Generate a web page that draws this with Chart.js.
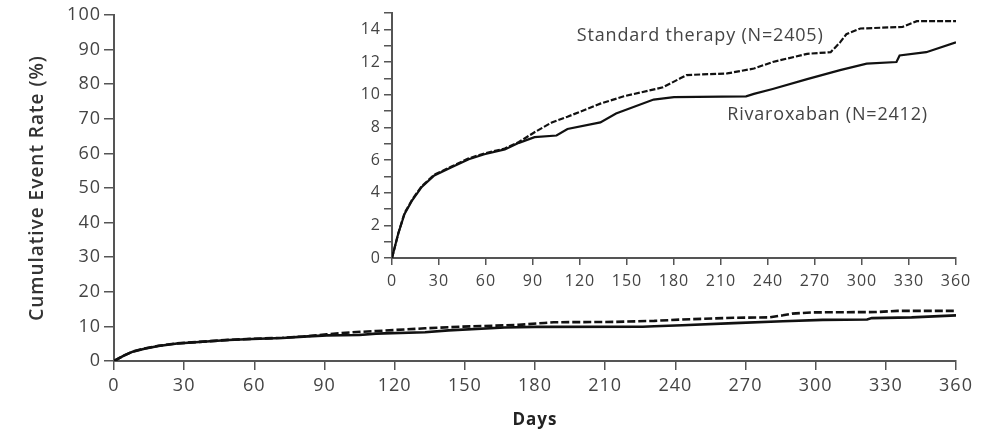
<!DOCTYPE html>
<html>
<head>
<meta charset="utf-8">
<script src="https://cdn.jsdelivr.net/npm/chart.js@4.4.1/dist/chart.umd.min.js"></script>
<style>
  html,body{margin:0;padding:0;background:#fff;}
  #wrap{position:relative;width:997px;height:435px;}
  #main{position:absolute;left:0;top:0;}
  #inset{position:absolute;left:330px;top:0;}
</style>
</head>
<body>
<div id="wrap">
  <canvas id="main" width="997" height="435"></canvas>
  <canvas id="inset" width="667" height="300"></canvas>
</div>
<script>
// ---- Data ----
const stdDays = [0,4,8,13,19,27,38,49,59,72,81,91,102,112,133,148,173,184,188,214,231,243,265,280,286,290,299,326,335,360];
const stdRate = [0,1.5,2.75,3.6,4.4,5.1,5.6,6.1,6.4,6.7,7.1,7.7,8.3,8.65,9.45,9.9,10.45,11.0,11.2,11.3,11.6,12.0,12.5,12.6,13.2,13.7,14.05,14.15,14.5,14.5];
const rivDays = [0,4,8,13,19,27,38,49,59,72,81,91,105,112,133,143,167,180,226,231,243,265,286,303,322,324,341,360];
const rivRate = [0,1.5,2.7,3.55,4.35,5.05,5.55,6.05,6.35,6.65,7.05,7.4,7.5,7.9,8.3,8.85,9.7,9.85,9.9,10.05,10.35,10.95,11.5,11.9,12.0,12.4,12.6,13.2];
const stdLabel = 'Standard therapy (N=2405)';
const rivLabel = 'Rivaroxaban (N=2412)';
const xTitle = 'Days';
const yTitle = 'Cumulative Event Rate (%)';
const insetLabelPos = {std:[118,13.57], riv:[214,8.74]};

const FAM = '"Open Sans", "Noto Sans", sans-serif';
const TXT = '#444';
const AX = '#555';

function pts(d, v){ return d.map((x,i)=>({x:x, y:v[i]})); }

function datasets(lw, dash){
  return [
    {label: stdLabel, data: pts(stdDays, stdRate), borderColor:'#111', borderWidth:lw, borderDash:dash, pointRadius:0, fill:false, tension:0},
    {label: rivLabel, data: pts(rivDays, rivRate), borderColor:'#111', borderWidth:lw, pointRadius:0, fill:false, tension:0}
  ];
}

const spacing = {
  id:'spacing',
  beforeLayout(chart){ chart.ctx.letterSpacing = '1px'; },
  beforeDraw(chart){ chart.ctx.letterSpacing = '1px'; }
};

new Chart(document.getElementById('main'), {
  type:'line',
  data:{datasets: datasets(2.6, [8,3])},
  plugins:[spacing],
  options:{
    responsive:false, animation:false,
    layout:{padding:{top:15, right:41, bottom:0, left:0}},
    plugins:{legend:{display:false}, tooltip:{enabled:false}},
    scales:{
      x:{type:'linear', min:0, max:360,
        ticks:{stepSize:30, autoSkip:false, maxRotation:0, font:{family:FAM, size:18}, color:TXT, padding:5},
        grid:{display:true, drawOnChartArea:false, drawTicks:true, tickLength:9, color:AX, lineWidth:1.5},
        border:{display:true, color:AX, width:2},
        title:{display:true, text:xTitle, font:{family:FAM, size:17, weight:'bold'}, color:'#222', padding:{top:0, bottom:5}},
        afterFit(s){ s.height = 74; }
      },
      y:{type:'linear', min:0, max:100,
        ticks:{stepSize:10, autoSkip:false, font:{family:FAM, size:18}, color:TXT, padding:3},
        grid:{display:true, drawOnChartArea:false, drawTicks:true, tickLength:10, color:AX, lineWidth:1.5},
        border:{display:true, color:AX, width:2},
        title:{display:true, text:yTitle, font:{family:FAM, size:19, weight:'600'}, color:'#333', padding:{top:26, bottom:0}},
        afterFit(s){ s.width = 114; }
      }
    }
  }
});

const insetText = {
  id:'insetText',
  afterDatasetsDraw(chart){
    const {ctx, scales:{x, y}} = chart;
    ctx.save();
    ctx.letterSpacing = '0.8px';
    ctx.font = '18px ' + FAM;
    ctx.fillStyle = '#444';
    ctx.textAlign = 'left';
    ctx.textBaseline = 'middle';
    ctx.fillText(stdLabel, x.getPixelForValue(insetLabelPos.std[0]), y.getPixelForValue(insetLabelPos.std[1]));
    ctx.fillText(rivLabel, x.getPixelForValue(insetLabelPos.riv[0]), y.getPixelForValue(insetLabelPos.riv[1]));
    ctx.restore();
  }
};

new Chart(document.getElementById('inset'), {
  type:'line',
  data:{datasets: datasets(2.2, [6,2])},
  plugins:[spacing, insetText],
  options:{
    responsive:false, animation:false,
    layout:{padding:{top:13, right:41, bottom:0, left:0}},
    plugins:{legend:{display:false}, tooltip:{enabled:false}},
    scales:{
      x:{type:'linear', min:0, max:360,
        ticks:{stepSize:30, autoSkip:false, maxRotation:0, font:{family:FAM, size:16}, color:TXT, padding:7},
        grid:{display:true, drawOnChartArea:false, drawTicks:true, tickLength:7, color:AX, lineWidth:1.5},
        border:{display:true, color:AX, width:2},
        afterFit(s){ s.height = 42; }
      },
      y:{type:'linear', min:0, max:15,
        ticks:{stepSize:1, autoSkip:false, font:{family:FAM, size:16}, color:TXT, padding:3,
          callback:(v)=> (v % 2 === 0 && v < 15) ? v : ''},
        grid:{display:true, drawOnChartArea:false, drawTicks:true, tickLength:8, color:AX, lineWidth:1.5},
        border:{display:true, color:AX, width:2},
        afterFit(s){ s.width = 62; }
      }
    }
  }
});
</script>
</body>
</html>
